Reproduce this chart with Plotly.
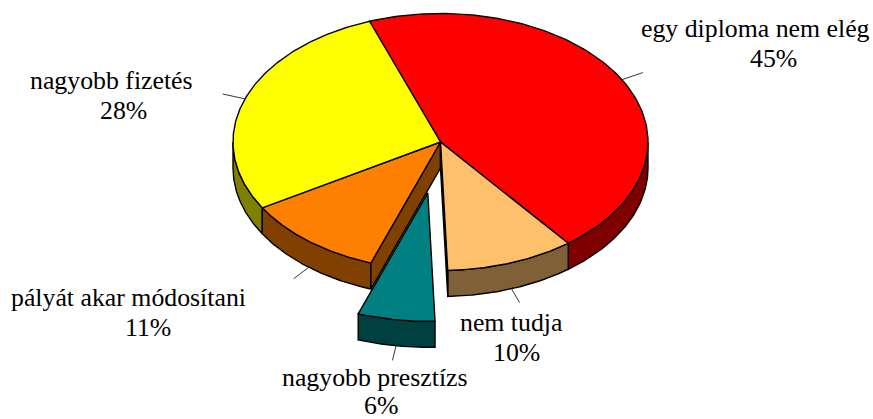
import numpy as np
import plotly.graph_objects as go

categories = ["egy diploma nem elég", "nem tudja", "nagyobb presztízs", "pályát akar módosítani", "nagyobb fizetés"]
values = [45, 10, 6, 11, 28]
top_colors = ["#FF0000", "#FFC06C", "#008080", "#FF8000", "#FFFF00"]
side_colors = ["#800000", "#806036", "#004040", "#804000", "#808000"]
explode = [0, 0, 0.40, 0, 0]
label_x = [755.5, 511, 374.5, 128.5, 111.5]
label_y = [28, 322, 377, 297, 80]
pct_x = [773, 516, 381, 148, 123]
pct_y = [58, 352, 405, 327, 110]

W, H = 873, 419
CX, CY, RX, RY, DEPTH = 440.5, 142, 207.5, 128.5, 26
START = -20.0
LW = 1.4
FS = 25.8

def rim(t, ox=0, oy=0, d=0):
    r = np.radians(t)
    return CX + ox + RX * np.sin(r), CY + oy + d - RY * np.cos(r)

def add_poly(fig, xs, ys, fill):
    fig.add_trace(go.Scatter(x=list(xs) + [xs[0]], y=list(ys) + [ys[0]], mode="lines", fill="toself",
                             fillcolor=fill, line=dict(color="black", width=LW),
                             hoverinfo="skip", showlegend=False))

def add_side(fig, t0, t1, ox, oy, fill):
    a, b = max(t0, 90), min(t1, 270)
    if a >= b:
        return
    ts = np.linspace(a, b, 80)
    x1, y1 = rim(ts, ox, oy)
    x2, y2 = rim(ts[::-1], ox, oy, DEPTH)
    add_poly(fig, np.r_[x1, x2], np.r_[y1, y2], fill)

def add_top(fig, t0, t1, ox, oy, fill):
    ts = np.linspace(t0, t1, 160)
    x, y = rim(ts, ox, oy)
    add_poly(fig, np.r_[CX + ox, x], np.r_[CY + oy, y], fill)

def add_cut(fig, t, ox, oy, fill):
    x, y = rim(t, ox, oy)
    ax, ay = CX + ox, CY + oy
    add_poly(fig, [ax, x, x, ax], [ay, y, y + DEPTH, ay + DEPTH], fill)

edges = START + np.r_[0, np.cumsum(values)] * 360.0 / sum(values)
slices = []
for i in range(len(values)):
    t0, t1 = edges[i], edges[i + 1]
    m = (t0 + t1) / 2
    r = np.radians(m)
    ox, oy = explode[i] * RX * np.sin(r), -explode[i] * RY * np.cos(r)
    slices.append((t0, t1, m, ox, oy))

fig = go.Figure()

body = [i for i in range(len(values)) if explode[i] == 0]
for i in [4, 3, 0, 1]:
    t0, t1, m, ox, oy = slices[i]
    add_side(fig, t0, t1, ox, oy, side_colors[i])
add_cut(fig, slices[3][0], 0, 0, side_colors[3])
add_cut(fig, slices[1][1], 0, 0, side_colors[1])
for i in body:
    t0, t1, m, ox, oy = slices[i]
    add_top(fig, t0, t1, ox, oy, top_colors[i])

for i in range(len(values)):
    t0, t1, m, ox, oy = slices[i]
    d = DEPTH if 90 < m < 270 else 0
    x0, y0 = rim(m, ox, oy, d)
    dx, dy = x0 - (CX + ox), y0 - (CY + oy + d)
    k = 0.115
    fig.add_trace(go.Scatter(x=[x0, x0 + k * dx], y=[y0, y0 + k * dy], mode="lines",
                             line=dict(color="#202020", width=0.9), hoverinfo="skip", showlegend=False))

for i in range(len(values)):
    if explode[i]:
        t0, t1, m, ox, oy = slices[i]
        add_side(fig, t0, t1, ox, oy, side_colors[i])
        add_top(fig, t0, t1, ox, oy, top_colors[i])

ann = []
for name, v, lx, ly, px, py in zip(categories, values, label_x, label_y, pct_x, pct_y):
    ann.append(dict(x=lx, y=ly, text=name, showarrow=False, xanchor="center", yanchor="middle",
                    font=dict(family="Liberation Serif", size=FS, color="black")))
    ann.append(dict(x=px, y=py, text=f"{v}%", showarrow=False, xanchor="center", yanchor="middle",
                    font=dict(family="Liberation Serif", size=FS, color="black")))

fig.update_layout(width=W, height=H, margin=dict(l=0, r=0, t=0, b=0), autosize=False,
                  paper_bgcolor="white", plot_bgcolor="white", annotations=ann,
                  xaxis=dict(range=[0, W], visible=False, fixedrange=True),
                  yaxis=dict(range=[H, 0], visible=False, fixedrange=True))
fig.write_html("out.html", config=dict(displayModeBar=False),
               post_script="document.body.style.margin='0';document.body.style.overflow='hidden';")
